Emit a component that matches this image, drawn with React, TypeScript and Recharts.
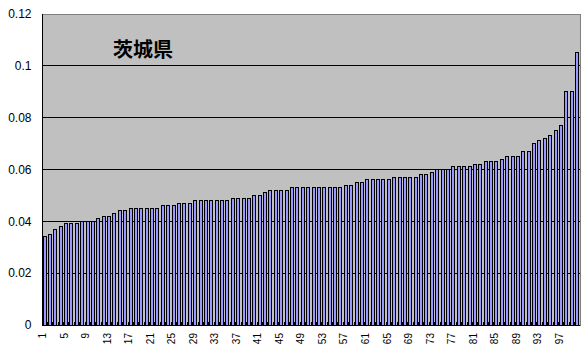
import { BarChart, Bar, XAxis, YAxis, CartesianGrid, ReferenceArea } from "recharts";

// sorted values per category
const values = [
  0.034, 0.035, 0.037, 0.038, 0.039, 0.039, 0.039, 0.04, 0.04, 0.04,
  0.041, 0.042, 0.042, 0.043, 0.044, 0.044, 0.045, 0.045, 0.045, 0.045,
  0.045, 0.045, 0.046, 0.046, 0.046, 0.047, 0.047, 0.047, 0.048, 0.048,
  0.048, 0.048, 0.048, 0.048, 0.048, 0.049, 0.049, 0.049, 0.049, 0.05,
  0.05, 0.051, 0.052, 0.052, 0.052, 0.052, 0.053, 0.053, 0.053, 0.053,
  0.053, 0.053, 0.053, 0.053, 0.053, 0.053, 0.054, 0.054, 0.055, 0.055,
  0.056, 0.056, 0.056, 0.056, 0.056, 0.057, 0.057, 0.057, 0.057, 0.057,
  0.058, 0.058, 0.059, 0.06, 0.06, 0.06, 0.061, 0.061, 0.061, 0.061,
  0.062, 0.062, 0.063, 0.063, 0.063, 0.064, 0.065, 0.065, 0.065, 0.067,
  0.067, 0.07, 0.071, 0.072, 0.073, 0.075, 0.077, 0.09, 0.09, 0.105,
];
const categories = values.map((_, i) => String(i + 1));
const yTicks = [0, 0.02, 0.04, 0.06, 0.08, 0.1, 0.12];
const gridValues = [0.02, 0.04, 0.06, 0.08, 0.1];
const title = "茨城県";

const data = categories.map((name, i) => ({ name, value: values[i] }));

function XTick({ x, y, payload, index }: any) {
  const half = payload?.offset || 2.69;
  return (
    <g>
      <line x1={x - half} x2={x - half} y1={y} y2={y - 3} stroke="#000" shapeRendering="crispEdges" />
      {index % 4 === 0 && (
        <text
          x={0}
          y={0}
          transform={`translate(${x + 1.5},${y + 8}) rotate(-90)`}
          textAnchor="end"
          fontSize={10}
          fill="#000"
        >
          {payload.value}
        </text>
      )}
    </g>
  );
}

export default function App() {
  return (
    <div
      style={{
        position: "absolute",
        left: 0,
        top: 0,
        width: 587,
        height: 360,
        background: "#fff",
        fontFamily: "'Liberation Sans', Arial, sans-serif",
      }}
    >
      <BarChart
        width={587}
        height={360}
        data={data}
        margin={{ top: 14, right: 7, bottom: 0, left: 0 }}
        barSize={3}
      >
        <CartesianGrid
          vertical={false}
          horizontalValues={gridValues}
          stroke="#000"
          strokeOpacity={1}
          fill="#C0C0C0"
          fillOpacity={1}
          shapeRendering="crispEdges"
        />
        <ReferenceArea y1={0} y2={0.12} fill="none" stroke="#808080" shapeRendering="crispEdges" />
        <Bar
          dataKey="value"
          fill="#9999FF"
          stroke="#000"
          strokeWidth={1}
          shapeRendering="crispEdges"
          isAnimationActive={false}
        />
        <XAxis
          dataKey="name"
          interval={0}
          height={35}
          tickSize={0}
          tickMargin={0}
          tickLine={false}
          axisLine={{ stroke: "#000", shapeRendering: "crispEdges" }}
          tick={<XTick />}
        />
        <YAxis
          width={42}
          domain={[0, 0.12]}
          ticks={yTicks}
          tickLine={false}
          tickSize={6}
          tickMargin={4.5}
          axisLine={{ stroke: "#000", shapeRendering: "crispEdges" }}
          tick={{ fontSize: 12, fill: "#000" }}
        />
      </BarChart>
      <div
        style={{
          position: "absolute",
          left: 113,
          top: 39,
          fontSize: 20,
          lineHeight: "20px",
          fontWeight: "bold",
          fontFamily: "'Noto Sans CJK JP', sans-serif",
          color: "#000",
        }}
      >
        {title}
      </div>
    </div>
  );
}
